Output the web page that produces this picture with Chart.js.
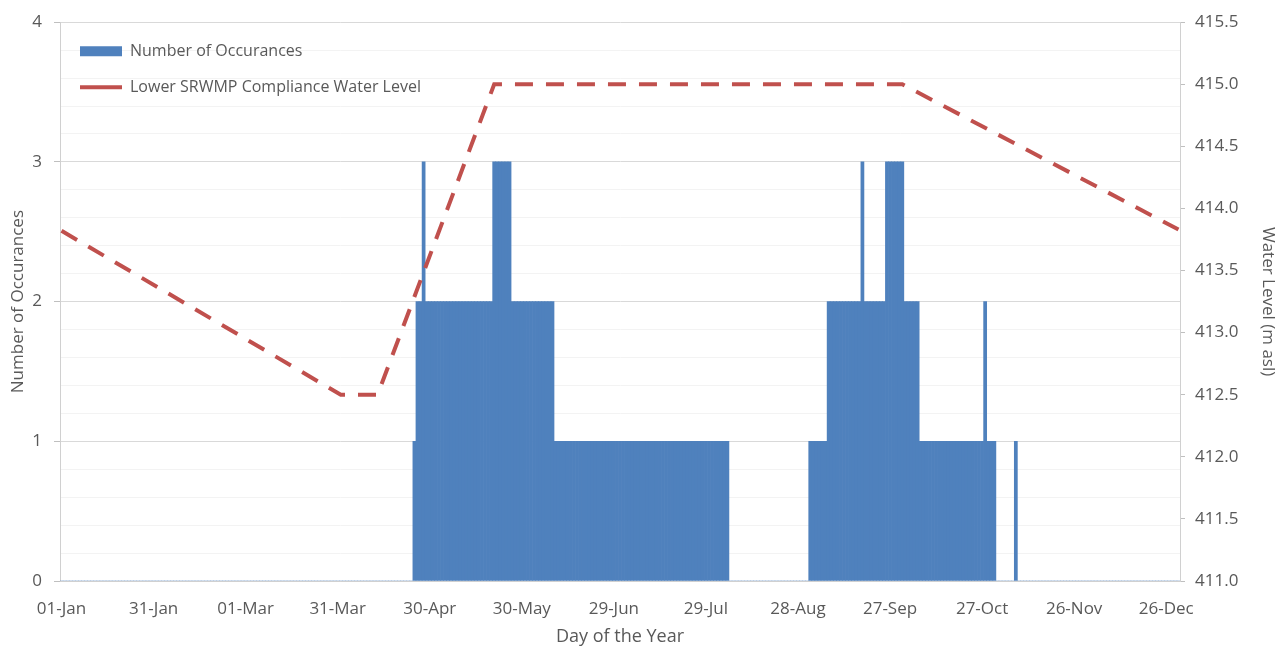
<!DOCTYPE html>
<html>
<head>
<meta charset="utf-8">
<title>Number of Occurances</title>
<script src="https://cdn.jsdelivr.net/npm/chart.js@4.4.1/dist/chart.umd.min.js"></script>
<style>
  body { margin: 0; background: #ffffff; }
  #wrap { width: 1278px; height: 648px; }
</style>
</head>
<body>
<div id="wrap"><canvas id="grafico"></canvas></div>
<script>
// Dias do ano (1..365) como categorias
const dias = [];
for (let d = 1; d <= 365; d++) dias.push(String(d));

// Rótulos do eixo X, um a cada 30 dias
const rotulosX = ['01-Jan', '31-Jan', '01-Mar', '31-Mar', '30-Apr', '30-May', '29-Jun',
                  '29-Jul', '28-Aug', '27-Sep', '27-Oct', '26-Nov', '26-Dec'];

// Número de ocorrências por dia (linhas de 30 dias)
const ocorrencias = [
  0,0,0,0,0, 0,0,0,0,0, 0,0,0,0,0, 0,0,0,0,0, 0,0,0,0,0, 0,0,0,0,0,
  0,0,0,0,0, 0,0,0,0,0, 0,0,0,0,0, 0,0,0,0,0, 0,0,0,0,0, 0,0,0,0,0,
  0,0,0,0,0, 0,0,0,0,0, 0,0,0,0,0, 0,0,0,0,0, 0,0,0,0,0, 0,0,0,0,0,
  0,0,0,0,0, 0,0,0,0,0, 0,0,0,0,0, 0,0,0,0,0, 0,0,0,0,0, 1,2,2,3,2,
  2,2,2,2,2, 2,2,2,2,2, 2,2,2,2,2, 2,2,2,2,2, 2,3,3,3,3, 3,3,2,2,2,
  2,2,2,2,2, 2,2,2,2,2, 2,1,1,1,1, 1,1,1,1,1, 1,1,1,1,1, 1,1,1,1,1,
  1,1,1,1,1, 1,1,1,1,1, 1,1,1,1,1, 1,1,1,1,1, 1,1,1,1,1, 1,1,1,1,1,
  1,1,1,1,1, 1,1,1,0,0, 0,0,0,0,0, 0,0,0,0,0, 0,0,0,0,0, 0,0,0,0,0,
  0,0,0,0,1, 1,1,1,1,1, 2,2,2,2,2, 2,2,2,2,2, 2,3,2,2,2, 2,2,2,2,3,
  3,3,3,3,3, 2,2,2,2,2, 1,1,1,1,1, 1,1,1,1,1, 1,1,1,1,1, 1,1,1,1,1,
  1,2,1,1,1, 0,0,0,0,0, 0,1,0,0,0, 0,0,0,0,0, 0,0,0,0,0, 0,0,0,0,0,
  0,0,0,0,0, 0,0,0,0,0, 0,0,0,0,0, 0,0,0,0,0, 0,0,0,0,0, 0,0,0,0,0,
  0,0,0,0,0
];

// Nível de água de conformidade (pontos de quebra)
const diasNivel = [1, 92, 104, 142, 275, 365];
const nivelAgua = [413.82, 412.5, 412.5, 415.0, 415.0, 413.83];

const corTexto = '#595959';
const fonte = 'Open Sans';

const ctx = document.getElementById('grafico').getContext('2d');
const myChart = new Chart(ctx, {
  data: {
    labels: dias,
    datasets: [
      {
        type: 'line',
        label: 'Lower SRWMP Compliance Water Level',
        data: diasNivel.map((d, i) => ({ x: String(d), y: nivelAgua[i] })),
        yAxisID: 'y2',
        borderColor: '#C0504D',
        backgroundColor: '#C0504D',
        borderWidth: 4,
        borderDash: [18, 13],
        pointRadius: 0,
        pointStyle: 'line',
        tension: 0,
        order: 0
      },
      {
        type: 'bar',
        label: 'Number of Occurances',
        data: ocorrencias,
        yAxisID: 'y',
        backgroundColor: '#4F81BD',
        borderWidth: 0,
        barPercentage: 1.0,
        categoryPercentage: 1.0,
        pointStyle: 'rect',
        order: 1
      }
    ]
  },
  options: {
    responsive: true,
    maintainAspectRatio: false,
    animation: false,
    layout: { padding: { top: 12, left: 0, right: 0, bottom: 0 } },
    plugins: {
      tooltip: { enabled: false },
      legend: {
        position: 'chartArea',
        align: 'start',
        reverse: true,
        title: {
          display: true,
          text: ' ',
          font: { family: fonte, size: 16 },
          padding: 2
        },
        labels: {
          usePointStyle: true,
          pointStyleWidth: 42,
          boxHeight: 10,
          padding: 20,
          color: corTexto,
          font: { family: fonte, size: 16 }
        }
      }
    },
    scales: {
      x: {
        type: 'category',
        offset: true,
        grid: { display: false },
        border: { display: true, color: '#D0D0D0' },
        ticks: {
          autoSkip: false,
          maxRotation: 0,
          minRotation: 0,
          padding: 10,
          color: corTexto,
          font: { family: fonte, size: 17 },
          callback: (v, i) => (i % 30 === 0 ? rotulosX[i / 30] : '')
        },
        title: {
          display: true,
          text: 'Day of the Year',
          color: corTexto,
          font: { family: fonte, size: 18 },
          padding: { top: 0, bottom: 0 }
        },
        afterFit: (s) => { s.height = 67; }
      },
      y: {
        position: 'left',
        min: 0,
        max: 4,
        ticks: {
          stepSize: 0.2,
          padding: 12,
          color: corTexto,
          font: { family: fonte, size: 17 },
          callback: (v) => (Math.abs(v - Math.round(v)) < 1e-6 ? String(Math.round(v)) : '')
        },
        grid: {
          color: (c) => (Math.abs(c.tick.value - Math.round(c.tick.value)) < 1e-6 ? '#D9D9D9' : '#F3F3F3'),
          tickColor: (c) => (Math.abs(c.tick.value - Math.round(c.tick.value)) < 1e-6 ? '#BFBFBF' : 'rgba(0,0,0,0)'),
          tickLength: 6
        },
        border: { display: true, color: '#D0D0D0' },
        title: {
          display: true,
          text: 'Number of Occurances',
          color: corTexto,
          font: { family: fonte, size: 17 },
          padding: { top: 8, bottom: 0 }
        },
        afterFit: (s) => { s.width = 60; }
      },
      y2: {
        position: 'right',
        min: 411,
        max: 415.5,
        ticks: {
          stepSize: 0.5,
          padding: 10,
          color: corTexto,
          font: { family: fonte, size: 17 },
          callback: (v) => v.toFixed(1)
        },
        grid: {
          drawOnChartArea: false,
          tickColor: '#BFBFBF',
          tickLength: 5
        },
        border: { display: true, color: '#D0D0D0' },
        title: {
          display: true,
          text: 'Water Level (m asl)',
          color: corTexto,
          font: { family: fonte, size: 17 },
          padding: { top: 0, bottom: 0 }
        },
        afterFit: (s) => { s.width = 98; }
      }
    }
  }
});
</script>
</body>
</html>
